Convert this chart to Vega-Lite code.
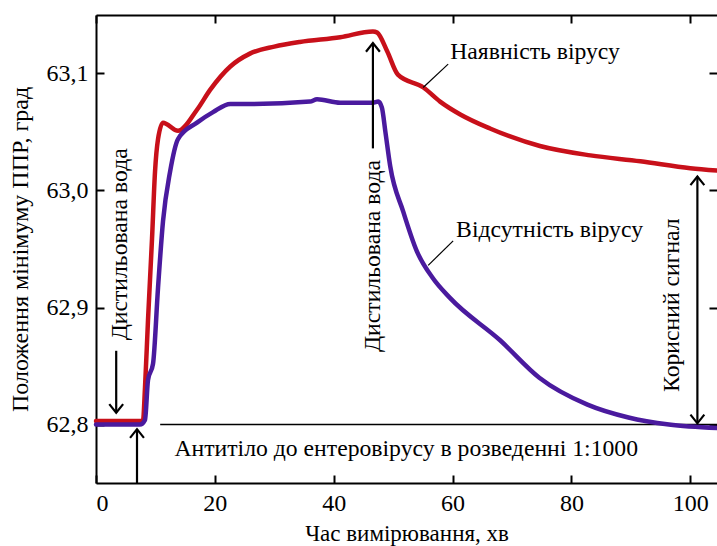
{
  "$schema": "https://vega.github.io/schema/vega-lite/v6.json",
  "width": 621,
  "height": 468,
  "autosize": "none",
  "padding": {"left": 96, "top": 15, "right": 0, "bottom": 63},
  "background": "white",
  "config": {
    "view": {"stroke": null},
    "font": "Liberation Serif",
    "axis": {
      "labelFont": "Liberation Serif",
      "titleFont": "Liberation Serif",
      "labelFontSize": 24,
      "titleFontSize": 24,
      "titleFontWeight": "normal",
      "labelColor": "black",
      "titleColor": "black",
      "domainColor": "black",
      "tickColor": "black",
      "domainWidth": 2,
      "tickWidth": 2,
      "grid": false
    }
  },
  "datasets": {
    "curves": [
      {"series": "Наявність вірусу", "x": 0, "y": 62.803},
      {"series": "Наявність вірусу", "x": 7.9, "y": 62.803},
      {"series": "Наявність вірусу", "x": 8.25, "y": 62.832},
      {"series": "Наявність вірусу", "x": 8.75, "y": 62.889},
      {"series": "Наявність вірусу", "x": 9.43, "y": 62.959},
      {"series": "Наявність вірусу", "x": 9.93, "y": 63.016},
      {"series": "Наявність вірусу", "x": 10.44, "y": 63.044},
      {"series": "Наявність вірусу", "x": 11.28, "y": 63.058},
      {"series": "Наявність вірусу", "x": 13.8, "y": 63.051},
      {"series": "Наявність вірусу", "x": 17.0, "y": 63.069},
      {"series": "Наявність вірусу", "x": 19.2, "y": 63.086},
      {"series": "Наявність вірусу", "x": 22.6, "y": 63.106},
      {"series": "Наявність вірусу", "x": 25.9, "y": 63.117},
      {"series": "Наявність вірусу", "x": 30.0, "y": 63.123},
      {"series": "Наявність вірусу", "x": 34.3, "y": 63.127},
      {"series": "Наявність вірусу", "x": 41.1, "y": 63.131},
      {"series": "Наявність вірусу", "x": 46.6, "y": 63.136},
      {"series": "Наявність вірусу", "x": 47.3, "y": 63.135},
      {"series": "Наявність вірусу", "x": 49.0, "y": 63.119},
      {"series": "Наявність вірусу", "x": 50.8, "y": 63.099},
      {"series": "Наявність вірусу", "x": 55.1, "y": 63.088},
      {"series": "Наявність вірусу", "x": 57.9, "y": 63.076},
      {"series": "Наявність вірусу", "x": 61.3, "y": 63.065},
      {"series": "Наявність вірусу", "x": 66.3, "y": 63.053},
      {"series": "Наявність вірусу", "x": 74.7, "y": 63.038},
      {"series": "Наявність вірусу", "x": 83.2, "y": 63.030},
      {"series": "Наявність вірусу", "x": 91.6, "y": 63.025},
      {"series": "Наявність вірусу", "x": 100.0, "y": 63.019},
      {"series": "Наявність вірусу", "x": 104.5, "y": 63.017},
      {"series": "Відсутність вірусу", "x": 0, "y": 62.800},
      {"series": "Відсутність вірусу", "x": 7.4, "y": 62.800},
      {"series": "Відсутність вірусу", "x": 8.25, "y": 62.804},
      {"series": "Відсутність вірусу", "x": 8.75, "y": 62.838},
      {"series": "Відсутність вірусу", "x": 9.6, "y": 62.852},
      {"series": "Відсутність вірусу", "x": 10.44, "y": 62.917},
      {"series": "Відсутність вірусу", "x": 11.28, "y": 62.974},
      {"series": "Відсутність вірусу", "x": 12.46, "y": 63.016},
      {"series": "Відсутність вірусу", "x": 13.8, "y": 63.044},
      {"series": "Відсутність вірусу", "x": 17.0, "y": 63.058},
      {"series": "Відсутність вірусу", "x": 19.7, "y": 63.067},
      {"series": "Відсутність вірусу", "x": 22.6, "y": 63.074},
      {"series": "Відсутність вірусу", "x": 25.9, "y": 63.074},
      {"series": "Відсутність вірусу", "x": 36.0, "y": 63.076},
      {"series": "Відсутність вірусу", "x": 37.2, "y": 63.078},
      {"series": "Відсутність вірусу", "x": 41.1, "y": 63.075},
      {"series": "Відсутність вірусу", "x": 46.6, "y": 63.075},
      {"series": "Відсутність вірусу", "x": 47.5, "y": 63.076},
      {"series": "Відсутність вірусу", "x": 48.1, "y": 63.071},
      {"series": "Відсутність вірусу", "x": 48.7, "y": 63.050},
      {"series": "Відсутність вірусу", "x": 49.5, "y": 63.021},
      {"series": "Відсутність вірусу", "x": 51.7, "y": 62.982},
      {"series": "Відсутність вірусу", "x": 54.0, "y": 62.948},
      {"series": "Відсутність вірусу", "x": 56.7, "y": 62.925},
      {"series": "Відсутність вірусу", "x": 59.6, "y": 62.908},
      {"series": "Відсутність вірусу", "x": 68.0, "y": 62.872},
      {"series": "Відсутність вірусу", "x": 74.6, "y": 62.840},
      {"series": "Відсутність вірусу", "x": 82.7, "y": 62.817},
      {"series": "Відсутність вірусу", "x": 89.6, "y": 62.806},
      {"series": "Відсутність вірусу", "x": 96.4, "y": 62.800},
      {"series": "Відсутність вірусу", "x": 104.5, "y": 62.797}
    ],
    "shafts": [
      {"x": 3.4, "y": 62.863, "y2": 62.81},
      {"x": 6.9, "y": 62.75, "y2": 62.796},
      {"x": 46.6, "y": 63.036, "y2": 63.126},
      {"x": 101.2, "y": 62.801, "y2": 63.012}
    ],
    "heads": [
      {"x": 3.4, "y": 62.81, "dir": "down"},
      {"x": 6.9, "y": 62.796, "dir": "up"},
      {"x": 46.6, "y": 63.126, "dir": "up"},
      {"x": 101.2, "y": 63.012, "dir": "up"},
      {"x": 101.2, "y": 62.801, "dir": "down"}
    ],
    "leaders": [
      {"x": 55.05, "y": 63.088, "x2": 59.26, "y2": 63.108},
      {"x": 55.9, "y": 62.936, "x2": 60.1, "y2": 62.957}
    ],
    "labels": [
      {"x": 59.6, "y": 63.118, "text": "Наявність вірусу"},
      {"x": 60.6, "y": 62.966, "text": "Відсутність вірусу"},
      {"x": 13.2, "y": 62.779, "text": "Антитіло до ентеровірусу в розведенні 1:1000"}
    ],
    "vlabels": [
      {"x": 4.1, "y": 62.954, "text": "Дистильована вода"},
      {"x": 46.6, "y": 62.944, "text": "Дистильована вода"},
      {"x": 97.0, "y": 62.902, "text": "Корисний сигнал"}
    ],
    "baseline": [
      {"x": 10.8, "x2": 104.5, "y": 62.8}
    ]
  },
  "layer": [
    {
      "data": {"name": "baseline"},
      "mark": {"type": "rule", "color": "black", "strokeWidth": 1.6},
      "encoding": {
        "x": {"field": "x", "type": "quantitative", "scale": {"domain": [0, 104.5], "nice": false, "zero": false},
          "axis": {"orient": "top", "labels": false, "title": null, "values": [0, 20, 40, 60, 80, 100], "tickSize": -8, "domain": true}},
        "x2": {"field": "x2"},
        "y": {"field": "y", "type": "quantitative", "scale": {"domain": [62.75, 63.15], "nice": false, "zero": false},
          "axis": {"orient": "right", "labels": false, "title": null, "values": [62.8, 62.9, 63.0, 63.1], "tickSize": -8, "domain": false}}
      }
    },
    {
      "data": {"name": "curves"},
      "mark": {"type": "line", "strokeWidth": 4.5, "strokeJoin": "round", "strokeCap": "round", "interpolate": "monotone"},
      "encoding": {
        "x": {"field": "x", "type": "quantitative",
          "axis": {"orient": "bottom", "title": "Час вимірювання, хв", "values": [0, 20, 40, 60, 80, 100], "tickSize": -8, "labelPadding": 16, "titlePadding": 7, "titleFontSize": 23}},
        "y": {"field": "y", "type": "quantitative",
          "axis": {"orient": "left", "title": "Положення мінімуму ППР, град", "values": [62.8, 62.9, 63.0, 63.1], "tickSize": -8, "labelPadding": 16, "titlePadding": 14,
            "labelExpr": "replace(format(datum.value, '.1f'), '.', ',')"}},
        "color": {"field": "series", "type": "nominal", "scale": {"domain": ["Наявність вірусу", "Відсутність вірусу"], "range": ["#c8101a", "#4a1a9e"]}, "legend": null},
        "order": {"field": "x", "type": "quantitative"}
      }
    },
    {
      "data": {"name": "shafts"},
      "mark": {"type": "rule", "color": "black", "strokeWidth": 2.2},
      "encoding": {
        "x": {"field": "x", "type": "quantitative", "axis": null},
        "y": {"field": "y", "type": "quantitative", "axis": null},
        "y2": {"field": "y2"}
      }
    },
    {
      "data": {"name": "heads"},
      "mark": {"type": "point", "filled": false, "color": "black", "strokeWidth": 2.2, "size": 300, "opacity": 1},
      "encoding": {
        "x": {"field": "x", "type": "quantitative", "axis": null},
        "y": {"field": "y", "type": "quantitative", "axis": null},
        "shape": {"field": "dir", "type": "nominal", "scale": {"domain": ["up", "down"], "range": ["M-0.8,1L0,0L0.8,1", "M-0.8,-1L0,0L0.8,-1"]}, "legend": null}
      }
    },
    {
      "data": {"name": "leaders"},
      "mark": {"type": "rule", "color": "black", "strokeWidth": 1.2},
      "encoding": {
        "x": {"field": "x", "type": "quantitative", "axis": null},
        "x2": {"field": "x2"},
        "y": {"field": "y", "type": "quantitative", "axis": null},
        "y2": {"field": "y2"}
      }
    },
    {
      "data": {"name": "labels"},
      "mark": {"type": "text", "align": "left", "baseline": "middle", "font": "Liberation Serif", "fontSize": 23.7, "color": "black"},
      "encoding": {
        "x": {"field": "x", "type": "quantitative", "axis": null},
        "y": {"field": "y", "type": "quantitative", "axis": null},
        "text": {"field": "text"}
      }
    },
    {
      "data": {"name": "vlabels"},
      "mark": {"type": "text", "align": "center", "baseline": "middle", "angle": 270, "font": "Liberation Serif", "fontSize": 23.7, "color": "black"},
      "encoding": {
        "x": {"field": "x", "type": "quantitative", "axis": null},
        "y": {"field": "y", "type": "quantitative", "axis": null},
        "text": {"field": "text"}
      }
    }
  ]
}
